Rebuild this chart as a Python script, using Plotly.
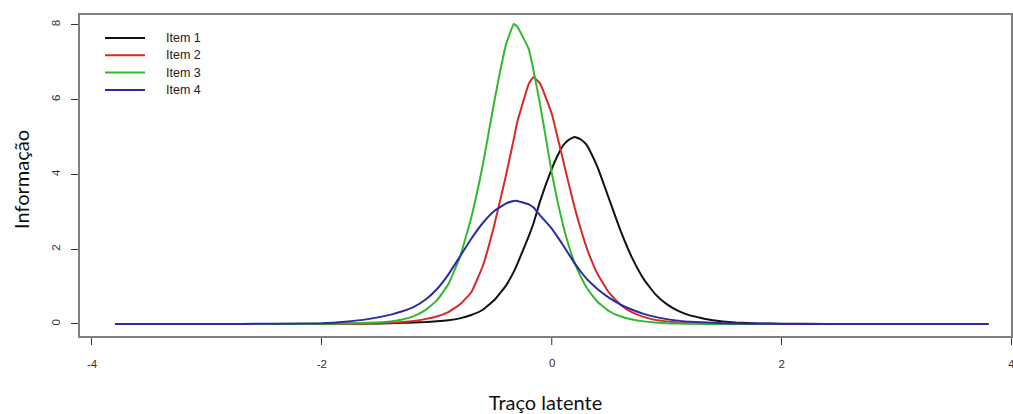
import plotly.graph_objects as go

theta = [-3.8, -3.0, -2.4, -2.0, -1.8, -1.6, -1.4, -1.3, -1.2, -1.1, -1.0, -0.9, -0.8, -0.7,
         -0.6, -0.5, -0.4, -0.33, -0.3, -0.2, -0.16, -0.1, 0.0, 0.05, 0.1, 0.15, 0.2, 0.25, 0.3, 0.35,
         0.4, 0.5, 0.6, 0.7, 0.8, 0.9, 1.0, 1.1, 1.2, 1.4, 1.6, 1.8, 2.0, 2.4, 3.0, 3.8]

item1 = [0, 0, 0, 0.0, 0.005, 0.01, 0.02, 0.03, 0.04, 0.05, 0.07, 0.10, 0.15, 0.24,
         0.38, 0.64, 1.02, 1.40, 1.60, 2.35, 2.68, 3.30, 4.15, 4.50, 4.78, 4.93, 5.00, 4.94, 4.80, 4.52,
         4.18, 3.33, 2.48, 1.76, 1.20, 0.80, 0.53, 0.35, 0.23, 0.10, 0.04, 0.015, 0.006, 0.001, 0, 0]
item2 = [0, 0, 0, 0.002, 0.006, 0.015, 0.03, 0.05, 0.08, 0.13, 0.20, 0.32, 0.52, 0.85,
         1.55, 2.65, 3.95, 4.95, 5.40, 6.42, 6.60, 6.42, 5.62, 5.00, 4.36, 3.72, 3.10, 2.56, 2.07, 1.67,
         1.33, 0.83, 0.51, 0.31, 0.19, 0.11, 0.07, 0.04, 0.02, 0.008, 0.003, 0.001, 0, 0, 0, 0]
item3 = [0, 0, 0, 0.003, 0.01, 0.03, 0.07, 0.12, 0.21, 0.37, 0.63, 1.06, 1.78, 2.85,
         4.25, 5.95, 7.45, 8.02, 7.95, 7.35, 6.80, 5.85, 4.05, 3.28, 2.62, 2.07, 1.63, 1.28, 0.99, 0.77,
         0.59, 0.34, 0.20, 0.12, 0.07, 0.04, 0.02, 0.01, 0.007, 0.002, 0, 0, 0, 0, 0, 0]
item4 = [0, 0, 0.005, 0.02, 0.06, 0.13, 0.25, 0.34, 0.46, 0.65, 0.93, 1.32, 1.80, 2.28,
         2.70, 3.02, 3.22, 3.29, 3.29, 3.20, 3.12, 2.90, 2.55, 2.33, 2.10, 1.86, 1.62, 1.41, 1.22, 1.07,
         0.93, 0.70, 0.52, 0.38, 0.27, 0.19, 0.13, 0.09, 0.06, 0.03, 0.01, 0.005, 0.002, 0, 0, 0]

names = ["Item 1", "Item 2", "Item 3", "Item 4"]
series = [item1, item2, item3, item4]
colors = ["#111111", "#d42a2a", "#2fba2f", "#2b2ba6"]

x_ticks = [-4, -2, 0, 2, 4]
x_labels = ["-4", "-2", "0", "2", "4"]
y_ticks = [0, 2, 4, 6, 8]
y_labels = ["0", "2", "4", "6", "8"]

X_RANGE = [-4.113, 4.004]
Y_RANGE = [-0.348, 8.289]

# plot area in pixels (for paper-coordinate conversion of the legend)
L, R, T, B = 79, 1012, 14, 337
W, H = R - L, B - T

tick_font = dict(family="Liberation Sans, Arial", size=11.5, color="#333333")

fig = go.Figure()
for name, vals, col in zip(names, series, colors):
    fig.add_trace(go.Scatter(x=theta, y=vals, mode="lines", name=name, showlegend=False,
                             line=dict(color=col, width=2, shape="spline", smoothing=0.35)))

# plot box
shapes = [dict(type="rect", xref="paper", yref="paper", x0=0, x1=1, y0=0, y1=1,
               line=dict(color="#808080", width=2), layer="above")]
annotations = []

# the axis drops its centre tick in this renderer, so the 0 tick is added separately,
# placed at the axis-range fraction of its value
axis_tickvals = [v for v in x_ticks if v != 0]
axis_ticktext = [t for v, t in zip(x_ticks, x_labels) if v != 0]
for v, t in zip(x_ticks, x_labels):
    if v == 0:
        xp = (v - X_RANGE[0]) / (X_RANGE[1] - X_RANGE[0])
        shapes.append(dict(type="line", xref="paper", yref="paper", x0=xp, x1=xp,
                           y0=-1 / H, y1=-8 / H, line=dict(color="#333333", width=1)))
        annotations.append(dict(text=t, xref="paper", yref="paper", x=xp, y=(B - 363) / H,
                                xanchor="center", yanchor="middle", showarrow=False,
                                font=tick_font))

# manual legend (R style): line samples + labels
row0, dy = 38.0, 17.3
for i, (name, col) in enumerate(zip(names, colors)):
    py = row0 + i * dy
    yp = (B - py) / H
    shapes.append(dict(type="line", xref="paper", yref="paper",
                       x0=(105 - L) / W, x1=(145 - L) / W, y0=yp, y1=yp,
                       line=dict(color=col, width=2)))
    annotations.append(dict(text=name, xref="paper", yref="paper", x=(164 - L) / W, y=yp,
                            xanchor="left", yanchor="middle", showarrow=False,
                            font=dict(family="Liberation Sans, Arial", size=12.5, color="#222222")))

annotations.append(
    dict(text="Informação", xref="paper", yref="paper", x=(21 - L) / W, y=(B - 180) / H,
         xanchor="center", yanchor="middle", showarrow=False, textangle=-90,
         font=dict(family="Lato", size=20, color="#111111")))

axis_common = dict(showgrid=False, zeroline=False, showline=False,
                   ticks="outside", ticklen=7, tickwidth=1, tickcolor="#333333",
                   tickfont=tick_font)

fig.update_layout(
    template="none",
    width=1013, height=414,
    margin=dict(l=L, r=1013 - R, t=T, b=414 - B, autoexpand=False),
    paper_bgcolor="white", plot_bgcolor="white",
    xaxis=dict(range=X_RANGE, tickmode="array", tickvals=axis_tickvals,
               ticktext=axis_ticktext, ticklabeloverflow="allow", ticklabelstandoff=9,
               title=dict(text="Traço latente", standoff=28,
                          font=dict(family="Lato", size=20, color="#111111")),
               **axis_common),
    yaxis=dict(range=Y_RANGE, tickmode="array", tickvals=y_ticks,
               ticktext=y_labels, tickangle=-90, ticklabelstandoff=6, **axis_common),
    showlegend=False,
    shapes=shapes,
    annotations=annotations,
)

fig.write_html("out.html")
